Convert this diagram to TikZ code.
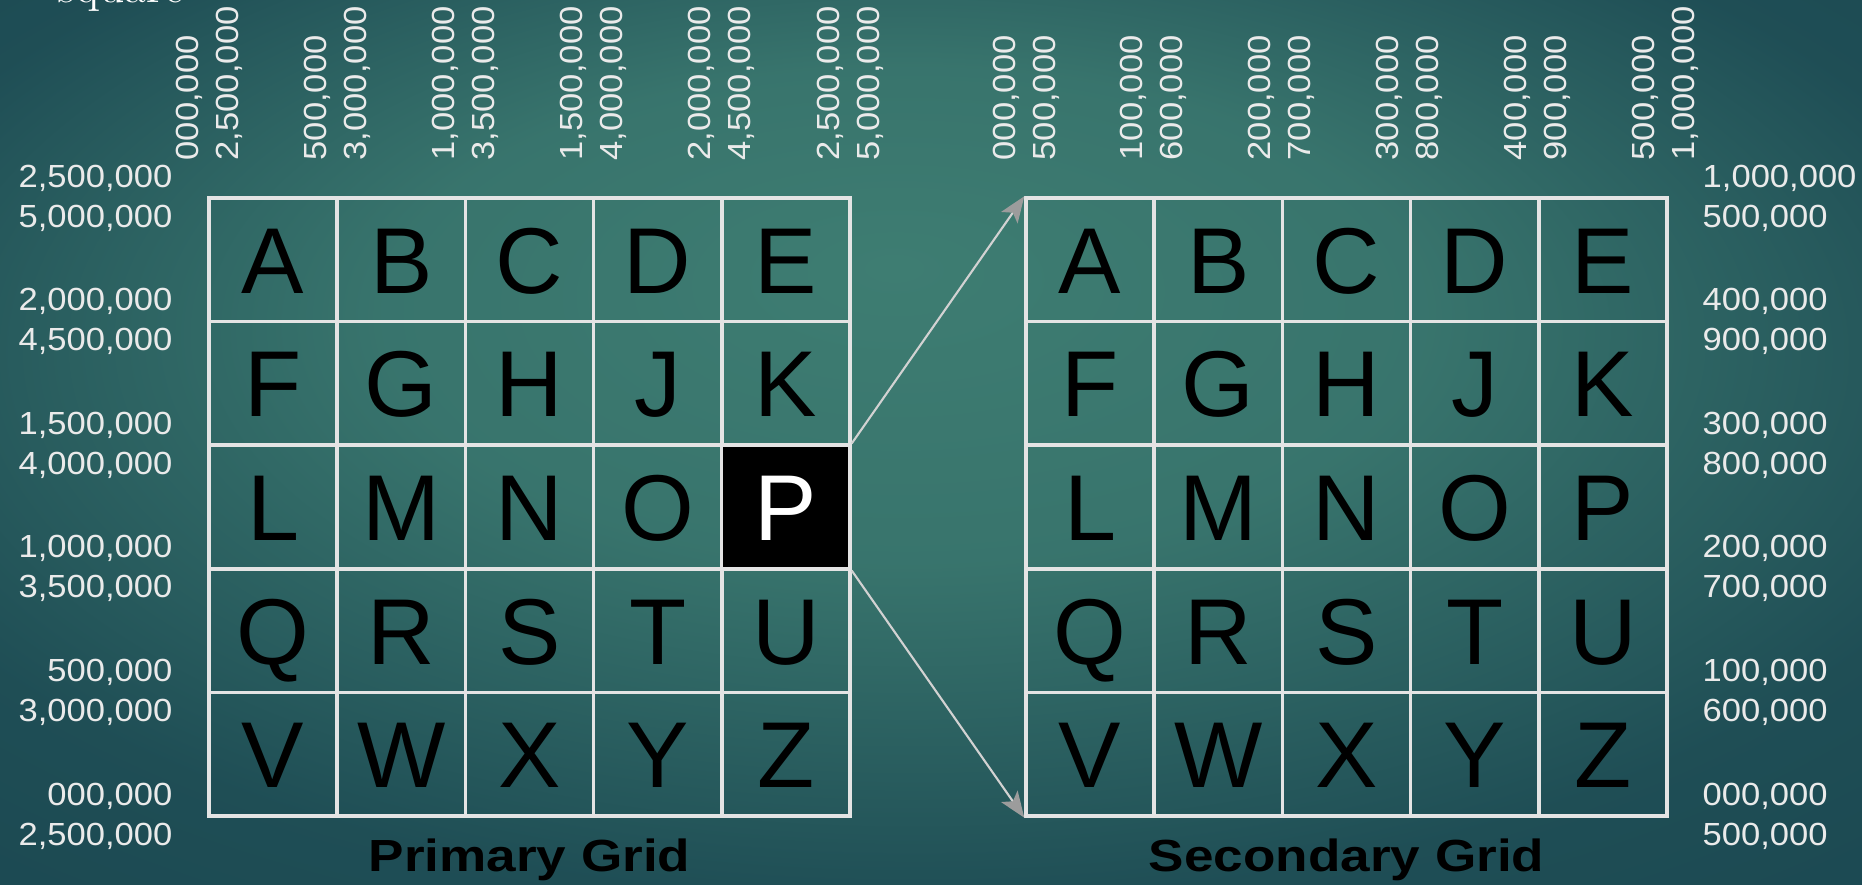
\documentclass[tikz,border=0pt]{standalone}
\usepackage{fontspec}
\usepackage{xcolor}
\usepackage{tikz}
\usetikzlibrary{arrows.meta,positioning,calc}

\newfontfamily\cellfont{Liberation Sans}
\newfontfamily\numfont[FakeStretch=1.08]{Liberation Sans}
\newfontfamily\titlefont[FakeStretch=1.18]{Liberation Sans}

\definecolor{bgin}{HTML}{3E7D72}
\definecolor{bgout}{HTML}{17424E}
\definecolor{gridline}{HTML}{E4E4E4}
\definecolor{numtext}{HTML}{EAEAEA}
\definecolor{arrowline}{HTML}{D2D2D2}
\definecolor{arrowhead}{HTML}{9C9C9C}

\pgfdeclareradialshading{bgshade}{\pgfpoint{-1bp}{10bp}}{%
  color(0bp)=(bgin); color(14bp)=(bgin!85!bgout);
  color(30bp)=(bgout!80!bgin); color(50bp)=(bgout)}

\begin{document}
\begin{tikzpicture}[x=0.01cm, y=-0.01cm,
		% Style definitions
		cellbox/.style={
			rectangle,
			draw=gridline,
			line width=0.95pt,
			minimum width=1.282cm,
			minimum height=1.236cm,
			inner sep=0pt,
			text height=0.67cm,
			text depth=0pt,
			font=\cellfont\fontsize{26.6}{30}\selectfont,
			text=black
		},
		hilite pP/.style={fill=black, text=white},
		rowlabel/.style={
			inner sep=0pt,
			text=numtext,
			font=\numfont\fontsize{9.1}{11.4}\selectfont
		},
		collabel/.style={rowlabel, rotate=90, anchor=west, align=left},
		gridtitle/.style={
			inner sep=0pt,
			anchor=base,
			text=black,
			font=\titlefont\bfseries\fontsize{12.8}{15}\selectfont
		},
		zoomarrow/.style={
			-{Stealth[length=0.26cm, width=0.2cm, inset=0.06cm, color=arrowhead]},
			draw=arrowline,
			line width=0.6pt
		}
		]
		% Background
		\shade[shading=bgshade] (0,0) rectangle (1862,885);
		\useasboundingbox (0,0) rectangle (1862,885);
		\node[anchor=base west, inner sep=0pt, text=white, font=\fontsize{13.1}{15}\selectfont] (cut) at (57,3) {square};
		
		% Letter cells of both grids
		\foreach \g/\gx in {p/209, s/1026} {
			\foreach \l [count=\i from 0] in {A,B,C,D,E,F,G,H,J,K,L,M,N,O,P,Q,R,S,T,U,V,W,X,Y,Z} {
				\pgfmathsetmacro\cx{\gx+128.2*(mod(\i,5)+0.5)}
				\pgfmathsetmacro\cy{198+123.6*(int(\i/5)+0.5)}
				\node[cellbox, hilite \g\l/.try] (\g\l) at (\cx,\cy) {\l};
			}
		}
		
		% Row labels
		\foreach \a/\b [count=\k from 0] in {{2,500,000}/{5,000,000}, {2,000,000}/{4,500,000}, {1,500,000}/{4,000,000}, {1,000,000}/{3,500,000}, {500,000}/{3,000,000}, {000,000}/{2,500,000}}
			\node[rowlabel, anchor=east, align=right] (pr\k) at (173, 198+123.6*\k) {\a\\\b};
		\foreach \a/\b [count=\k from 0] in {{1,000,000}/{500,000}, {400,000}/{900,000}, {300,000}/{800,000}, {200,000}/{700,000}, {100,000}/{600,000}, {000,000}/{500,000}}
			\node[rowlabel, anchor=west, align=left] (sr\k) at (1702, 198+123.6*\k) {\a\\\b};
		
		% Column labels
		\foreach \a/\b [count=\k from 0] in {{000,000}/{2,500,000}, {500,000}/{3,000,000}, {1,000,000}/{3,500,000}, {1,500,000}/{4,000,000}, {2,000,000}/{4,500,000}, {2,500,000}/{5,000,000}}
			\node[collabel] (pc\k) at (209+128.2*\k, 161) {\a\\\b};
		\foreach \a/\b [count=\k from 0] in {{000,000}/{500,000}, {100,000}/{600,000}, {200,000}/{700,000}, {300,000}/{800,000}, {400,000}/{900,000}, {500,000}/{1,000,000}}
			\node[collabel] (sc\k) at (1026+127.8*\k, 161) {\a\\\b};
		
		% Zoom arrows
		\draw[zoomarrow] (pP.north east) -- (sA.north west);
		\draw[zoomarrow] (pP.south east) -- (sV.south west);
		
		% Grid titles
		\node[gridtitle] (ptitle) at ($(pX.south)+(0,54)$) {Primary Grid};
		\node[gridtitle] (stitle) at ($(sX.south)+(0,54)$) {Secondary Grid};
		
	\end{tikzpicture}
\end{document}
